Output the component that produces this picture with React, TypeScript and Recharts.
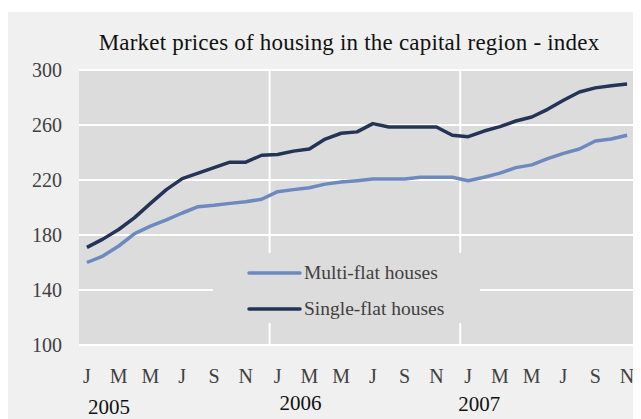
import React from "react"
import { LineChart, Line, XAxis, YAxis, CartesianGrid, Legend, ReferenceLine } from "recharts"

const font = "'Liberation Serif', 'Times New Roman', serif"

const years = ["2005", "2006", "2007"]
const monthLetters = ["J", "F", "M", "A", "M", "J", "J", "A", "S", "O", "N", "D"]
// Jan 2005 .. Nov 2007
const multiFlat = [
  160, 164.7, 172, 181, 186.5, 191, 196, 200.6, 201.6, 203, 204.2, 206,
  211.5, 213, 214.4, 217, 218.5, 219.5, 220.7, 220.7, 220.7, 222, 222, 222,
  219.5, 222, 225, 229, 231, 235.5, 239.4, 242.5, 248.4, 249.8, 252.5,
]
const singleFlat = [
  171, 177, 184, 192.6, 203, 213, 221, 225, 229, 233, 233, 238,
  238.5, 241, 242.6, 249.8, 254, 255, 261, 258.5, 258.5, 258.5, 258.5, 252.5,
  251.5, 255.6, 258.8, 262.9, 265.8, 271.4, 278, 284, 287, 288.6, 289.8,
]
const yTicks = [100, 140, 180, 220, 260, 300]
const yearStarts = [0, 12, 24]
const monthTicks = multiFlat.map((_, i) => i).filter((i) => i % 2 === 0)

const data = multiFlat.map((v, i) => ({
  t: i,
  multi: v,
  single: singleFlat[i],
}))

const series = [
  { key: "multi", name: "Multi-flat houses", color: "#6d89c0" },
  { key: "single", name: "Single-flat houses", color: "#233456" },
]

const xDomain = [-0.5, multiFlat.length - 0.5]

// small nudges so the year labels sit like in the original
const yearDx = [1, 2, -10]
const yearDy = [19, 15, 16]

function YearTick(props: any) {
  const { x, y, index, payload } = props
  return (
    <text
      x={x + yearDx[index]}
      y={y + yearDy[index]}
      textAnchor="start"
      fontFamily={font}
      fontSize={21}
      fill="#111"
    >
      {years[yearStarts.indexOf(payload.value)]}
    </text>
  )
}

function LegendBox() {
  return (
    <div style={{ fontFamily: font, fontSize: 19.5, color: "#404040" }}>
      {series.map((s, i) => (
        <div
          key={s.key}
          style={{ position: "absolute", left: 34, top: 9 + i * 36, display: "flex", alignItems: "center", height: 22 }}
        >
          <svg width={56} height={6}>
            <line x1={2} y1={3} x2={53} y2={3} stroke={s.color} strokeWidth={3.5} strokeLinecap="round" />
          </svg>
          <span style={{ marginLeft: 1, whiteSpace: "nowrap" }}>{s.name}</span>
        </div>
      ))}
    </div>
  )
}

export default function App() {
  return (
    <div style={{ paddingTop: 4 }}>
      <div style={{ position: "relative", width: 633, height: 407, background: "#f0f0f0" }}>
        <div
          style={{
            position: "absolute",
            left: 0,
            top: 19,
            width: 682,
            textAlign: "center",
            fontFamily: font,
            fontSize: 23,
            letterSpacing: 0.2,
            lineHeight: "23px",
            color: "#111",
            zIndex: 2,
          }}
        >
          Market prices of housing in the capital region - index
        </div>
        <LineChart width={633} height={407} data={data} margin={{ top: 58, right: 6, bottom: 0, left: 0 }}>
          <CartesianGrid
            vertical={false}
            stroke="#ffffff"
            strokeWidth={2}
            fill="#dcdcdc"
            fillOpacity={1}
          />
          <XAxis
            dataKey="t"
            type="number"
            domain={xDomain}
            allowDataOverflow
            ticks={monthTicks}
            interval={0}
            tickFormatter={(v) => monthLetters[v % 12]}
            axisLine={false}
            tickLine={false}
            tickSize={0}
            tickMargin={24}
            height={50}
            tick={{ fontFamily: font, fontSize: 20, fill: "#404040" }}
          />
          <XAxis
            xAxisId="yr"
            dataKey="t"
            type="number"
            domain={xDomain}
            allowDataOverflow
            ticks={yearStarts}
            interval={0}
            axisLine={false}
            tickLine={false}
            tickSize={0}
            tickMargin={0}
            height={24}
            tick={<YearTick />}
          />
          <YAxis
            domain={[100, 300]}
            ticks={yTicks}
            axisLine={false}
            tickLine={false}
            tickSize={0}
            tickMargin={17}
            width={71}
            tick={{ fontFamily: font, fontSize: 20, fill: "#404040" }}
          />
          {yearStarts.slice(1).map((m) => (
            <ReferenceLine key={m} x={m - 0.5} stroke="#ffffff" strokeWidth={2} />
          ))}
          {series.map((s) => (
            <Line
              key={s.key}
              type="linear"
              dataKey={s.key}
              name={s.name}
              stroke={s.color}
              strokeWidth={3.5}
              strokeLinejoin="round"
              dot={false}
              isAnimationActive={false}
            />
          ))}
          <Legend
            layout="horizontal"
            verticalAlign="middle"
            align="center"
            content={<LegendBox />}
            wrapperStyle={{ left: 205, top: 241, width: 267, height: 70, background: "#dcdcdc" }}
          />
        </LineChart>
      </div>
    </div>
  )
}
